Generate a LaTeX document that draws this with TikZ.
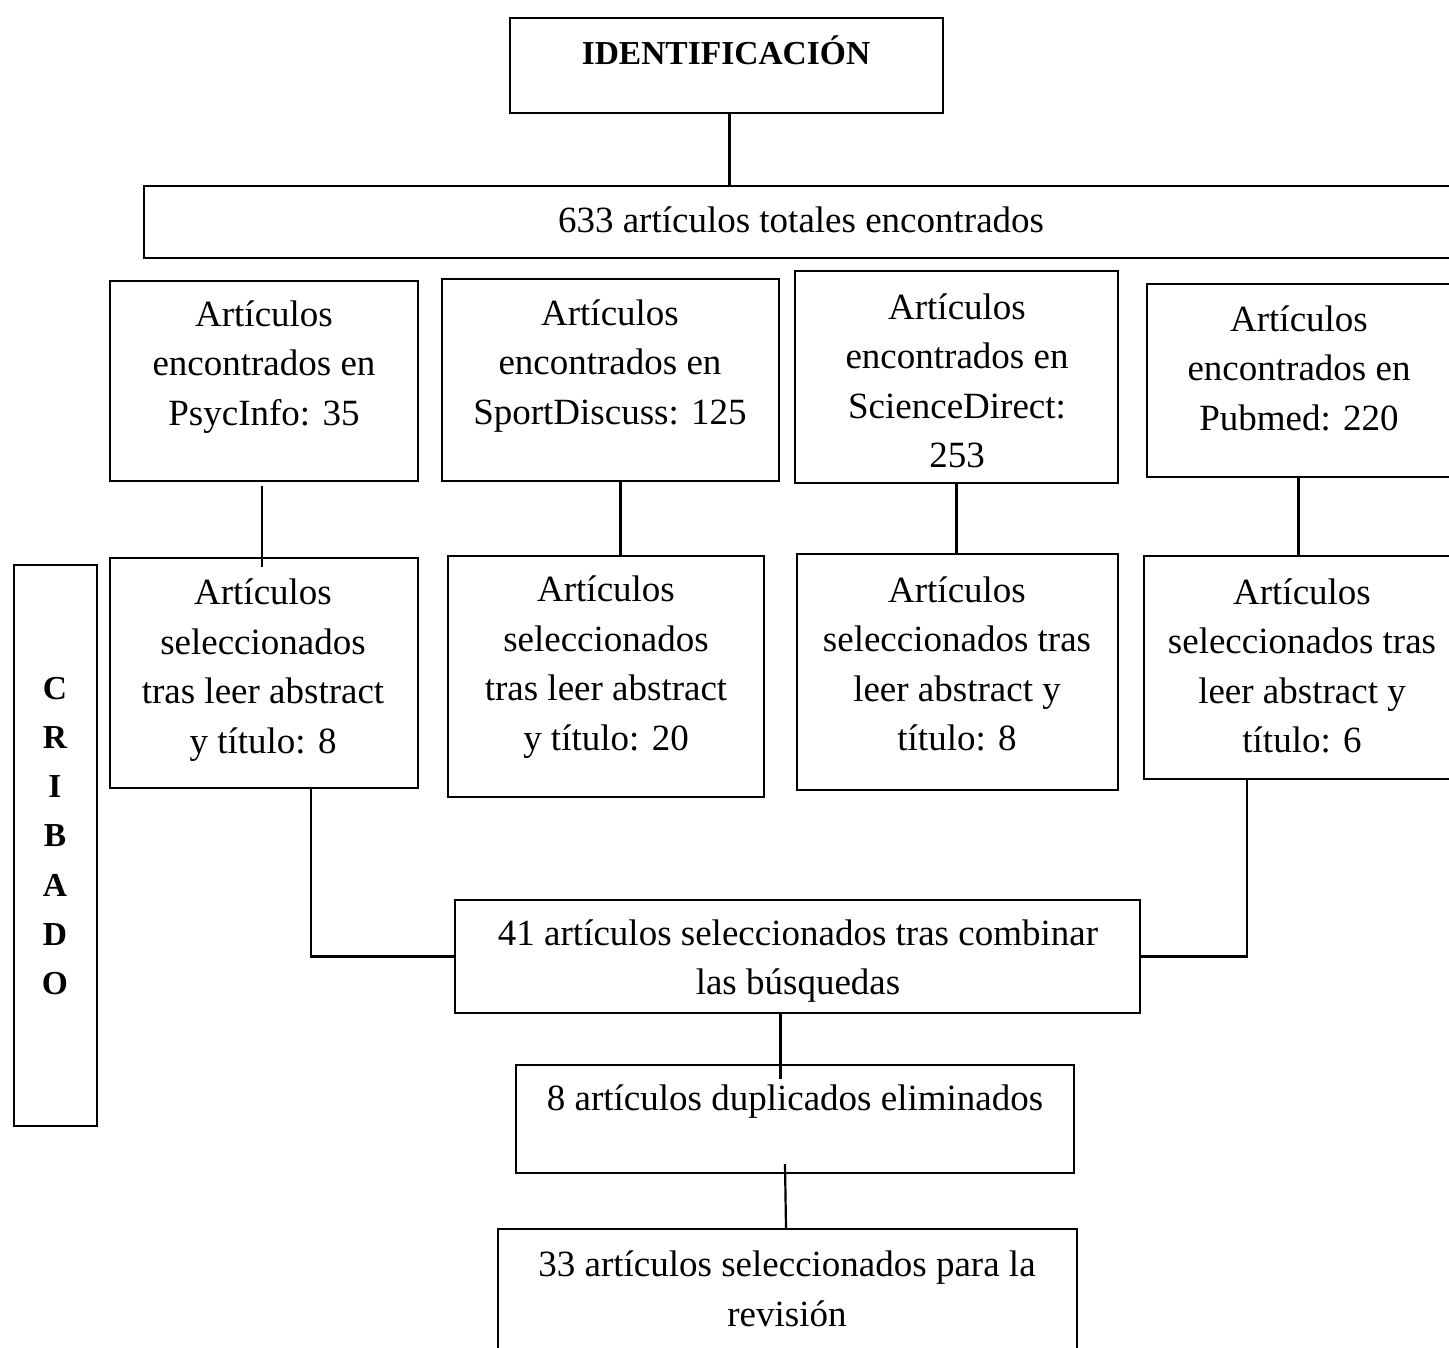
\documentclass[tikz,border=0pt]{standalone}
\usepackage{fontspec}
\setmainfont{Liberation Serif}
\usetikzlibrary{fit,positioning}
\begin{document}
\begin{tikzpicture}[x=1pt,y=-1pt,
  box/.style={draw,line width=2.2pt,inner sep=0pt,rectangle},
  txt/.style={align=center,inner sep=0pt,font=\fontsize{37}{49.5}\selectfont},
  btxt/.style={align=center,inner sep=0pt,font=\fontsize{33.5}{49.3}\selectfont\bfseries},
  conn/.style={line width=2.2pt}]
\clip (0,0) rectangle (1449,1348);
\fill[white] (0,0) rectangle (1449,1348);
% boxes
\node[box,fit={(510,18) (943,113)}] (ident) {};
\node[box,fit={(144,186) (1460,258)}] (tot) {};
\node[box,fit={(110,281) (418,481)}] (psy) {};
\node[box,fit={(442,279) (779,481)}] (spd) {};
\node[box,fit={(795,271) (1118,483)}] (sci) {};
\node[box,fit={(1147,284) (1452,477)}] (pub) {};
\node[box,fit={(110,558) (418,788)}] (sa) {};
\node[box,fit={(448,556) (764,797)}] (sb) {};
\node[box,fit={(797,554) (1118,790)}] (sc) {};
\node[box,fit={(1144,556) (1452,779)}] (sd) {};
\node[box,fit={(14,565) (97,1126)}] (crib) {};
\node[box,fit={(455,900) (1140,1013)}] (comb) {};
\node[box,fit={(516,1065) (1074,1173)}] (dup) {};
\node[box,fit={(498,1229) (1077,1365)}] (fin) {};
% texts
\node[btxt] (identt) at (726,50) {IDENTIFICACIÓN};
\node[txt] (tott) at (801,220) {633 artículos totales encontrados};
\node[txt] (psyt) at (264,367) {Artículos\\encontrados en\\PsycInfo: 35};
\node[txt] (spdt) at (610,366) {Artículos\\encontrados en\\SportDiscuss: 125};
\node[txt] (scit) at (957,381) {Artículos\\encontrados en\\ScienceDirect:\\253};
\node[txt] (pubt) at (1299,368) {Artículos\\encontrados en\\Pubmed: 220};
\node[txt] (sat) at (263,670) {Artículos\\seleccionados\\tras leer abstract\\y título: 8};
\node[txt] (sbt) at (606,667) {Artículos\\seleccionados\\tras leer abstract\\y título: 20};
\node[txt] (sct) at (957,664) {Artículos\\seleccionados tras\\leer abstract y\\título: 8};
\node[txt] (sdt) at (1302,666) {Artículos\\seleccionados tras\\leer abstract y\\título: 6};
\node[btxt] (cribt) at (55,836) {C\\R\\I\\B\\A\\D\\O};
\node[txt] (combt) at (798,961) {41 artículos seleccionados tras combinar\\las búsquedas};
\node[txt] (dupt) at (795,1102) {8 artículos duplicados eliminados};
\node[txt] (fint) at (787,1289) {33 artículos seleccionados para la\\revisión};
% connectors
\draw[conn] ([xshift=3pt]ident.south) -- ([xshift=3pt]ident.south |- tot.north);
\draw[conn] ([xshift=-2pt,yshift=-4pt]psy.south) -- ([xshift=-2pt,yshift=-10pt]psy.south |- sa.north);
\draw[conn] ([xshift=10pt]spd.south) -- ([xshift=10pt]spd.south |- sb.north);
\draw[conn] (sci.south) -- (sci.south |- sc.north);
\draw[conn] ([xshift=-1pt]pub.south) -- ([xshift=-1pt]pub.south |- sd.north);
\draw[conn] ([xshift=47pt]sa.south) |- (comb.west);
\draw[conn] ([xshift=-51pt]sd.south) |- (comb.east);
\draw[conn] ([xshift=-17pt]comb.south) -- ([xshift=-17pt,yshift=-15pt]comb.south |- dup.north);
\draw[conn] ([xshift=-10pt,yshift=10pt]dup.south) -- ([xshift=-9pt]dup.south |- fin.north);
\end{tikzpicture}
\end{document}
